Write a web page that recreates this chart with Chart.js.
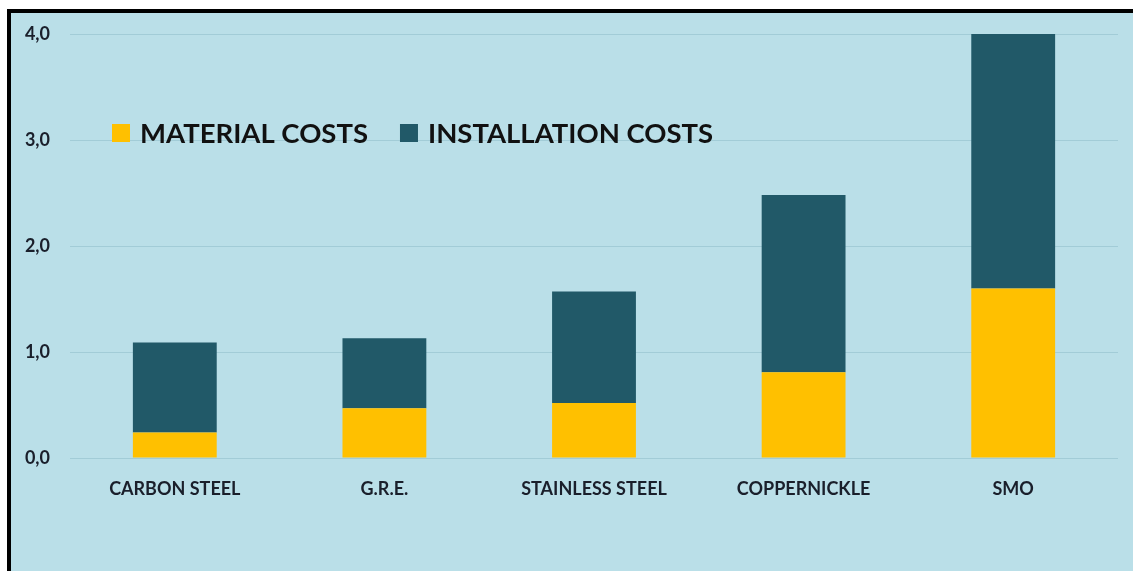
<!DOCTYPE html>
<html>
<head>
<meta charset="utf-8">
<script src="https://cdn.jsdelivr.net/npm/chart.js@4.4.0/dist/chart.umd.min.js"></script>
<style>
    html, body { margin: 0; padding: 0; background: #fff; }
    #frame {
        position: absolute; left: 7px; top: 9px;
        width: 1122px; height: 558px;
        border-left: 4px solid #000; border-top: 4px solid #000;
        background: #BADFE8;
    }
    #chart { display: block; }
</style>
</head>
<body>
<div id="frame"><canvas id="chart" width="1122" height="558"></canvas></div>
<script>
const categories = ['CARBON STEEL', 'G.R.E.', 'STAINLESS STEEL', 'COPPERNICKLE', 'SMO'];
const materialCosts = [0.24, 0.47, 0.52, 0.81, 1.60];
const installationCosts = [0.85, 0.66, 1.05, 1.67, 2.40];
const yTicks = [0, 1, 2, 3, 4];

// Légende dessinée à l'intérieur de la zone du graphique
const insideLegend = {
    id: 'insideLegend',
    afterDatasetsDraw(chart) {
        const ctx = chart.ctx;
        const area = chart.chartArea;
        let x = area.left + 42;
        const y = area.top + 99;
        const box = 18;
        ctx.save();
        ctx.font = 'bold 27.5px Lato';
        ctx.textBaseline = 'middle';
        chart.data.datasets.forEach((ds) => {
            ctx.fillStyle = ds.backgroundColor;
            ctx.fillRect(x, y - box / 2, box, box);
            x += box + 10;
            ctx.fillStyle = '#111';
            ctx.fillText(ds.label, x, y + 1);
            x += ctx.measureText(ds.label).width + 32;
        });
        ctx.restore();
    }
};

const ctx = document.getElementById('chart').getContext('2d');
new Chart(ctx, {
    type: 'bar',
    data: {
        labels: categories,
        datasets: [{
            label: 'MATERIAL COSTS',
            data: materialCosts,
            backgroundColor: '#FFC000',
            borderWidth: 0,
        }, {
            label: 'INSTALLATION COSTS',
            data: installationCosts,
            backgroundColor: '#215968',
            borderWidth: 0,
        }]
    },
    options: {
        responsive: false,
        animation: false,
        barPercentage: 0.4,
        categoryPercentage: 1.0,
        layout: { padding: { top: 21, right: 15, left: 0, bottom: 0 } },
        plugins: {
            legend: { display: false },
            tooltip: { enabled: false }
        },
        scales: {
            x: {
                stacked: true,
                grid: { display: false, drawTicks: false },
                border: { display: false },
                ticks: {
                    color: '#1a1f2b',
                    font: { family: 'Lato', weight: 'bold', size: 18 },
                    padding: 20,
                    maxRotation: 0
                },
                afterFit: (scale) => { scale.height = 113; scale.paddingLeft = 0; scale.paddingRight = 0; }
            },
            y: {
                stacked: true,
                min: 0,
                max: 4,
                afterBuildTicks: (scale) => { scale.ticks = yTicks.map(v => ({ value: v })); },
                grid: { color: '#A2CCD7', lineWidth: 1, drawTicks: false },
                border: { display: false },
                ticks: {
                    color: '#1a1f2b',
                    font: { family: 'Lato', weight: 'bold', size: 18 },
                    padding: 20,
                    callback: (value) => value.toFixed(1).replace('.', ',')
                },
                afterFit: (scale) => { scale.width = 59; scale.paddingTop = 0; scale.paddingBottom = 0; }
            }
        }
    },
    plugins: [insideLegend]
});
</script>
</body>
</html>
